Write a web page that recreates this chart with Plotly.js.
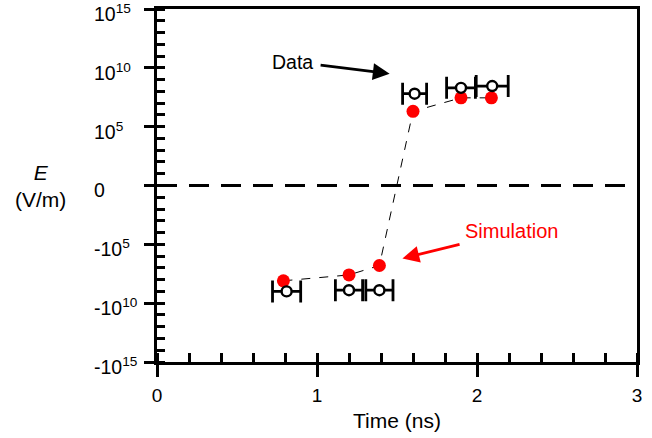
<!DOCTYPE html>
<html>
<head>
<meta charset="utf-8">
<script src="https://cdn.plot.ly/plotly-3.0.1.min.js"></script>
<style>html,body{margin:0;padding:0;background:#fff;}#chart{width:652px;height:438px;}</style>
</head>
<body>
<div id="chart"></div>
<script>
// Signed-log field values: t = sign(E) * log10(|E|)
var dataTime = [0.81, 1.20, 1.39, 1.61, 1.90, 2.095];
var dataLogE = [-9.0, -8.9, -8.9, 7.8, 8.3, 8.45];
var dataTimeErr = [0.088, 0.085, 0.085, 0.075, 0.09, 0.1];

var simTime = [0.79, 1.20, 1.39, 1.60, 1.90, 2.09];
var simLogE = [-8.1, -7.6, -6.8, 6.3, 7.45, 7.45];

var yTickVals = [15, 10, 5, 0, -5, -10, -15];
var yTickText = ['10<sup>15</sup>', '10<sup>10</sup>', '10<sup>5</sup>', '0', '-10<sup>5</sup>', '-10<sup>10</sup>', '-10<sup>15</sup>'];
var xTickVals = [0, 1, 2, 3];

var FONT = 'Liberation Sans, Arial, Helvetica, sans-serif';

var traces = [
  {x: simTime, y: simLogE, mode: 'lines', type: 'scatter',
   line: {color: 'black', width: 1, dash: '9px,9px'}, hoverinfo: 'skip', showlegend: false},
  {x: simTime, y: simLogE, mode: 'markers', type: 'scatter', name: 'Simulation',
   marker: {color: '#ff0000', size: 13, line: {width: 0}}, showlegend: false},
  {x: dataTime, y: dataLogE, mode: 'markers', type: 'scatter', name: 'Data',
   marker: {color: 'white', size: 10, line: {color: 'black', width: 2.4}},
   error_x: {type: 'data', array: dataTimeErr, visible: true, color: 'black', thickness: 2.8, width: 11},
   showlegend: false},
  {x: [0, 3], y: [0, 0], xaxis: 'x2', yaxis: 'y', mode: 'lines', type: 'scatter',
   line: {color: 'rgba(0,0,0,0)', width: 0}, hoverinfo: 'skip', showlegend: false}
];

var annotations = [];
for (var i = 0; i < yTickVals.length; i++) {
  annotations.push({xref: 'paper', yref: 'y', x: -0.135, y: yTickVals[i], text: yTickText[i], yshift: -4,
    showarrow: false, xanchor: 'left', yanchor: 'middle', font: {family: FONT, size: 19.5, color: 'black'}});
}
annotations.push({xref: 'paper', yref: 'paper', x: -0.243, y: 0.5, xanchor: 'center', yanchor: 'middle',
  text: '<i>E</i><br>(V/m)', showarrow: false, font: {family: FONT, size: 21, color: 'black'}});
annotations.push({x: 1.454, y: 9.5, xref: 'x', yref: 'y', text: 'Data', showarrow: true,
  ax: -97, ay: -12, arrowcolor: 'black', arrowwidth: 2.8, arrowhead: 2, arrowsize: 1.2,
  font: {family: FONT, size: 19.5, color: 'black'}, startstandoff: 6});
annotations.push({x: 1.534, y: -6.2, xref: 'x', yref: 'y', text: 'Simulation', showarrow: true,
  ax: 109, ay: -27, arrowcolor: '#ff0000', arrowwidth: 2.8, arrowhead: 2, arrowsize: 1.2,
  font: {family: FONT, size: 20, color: '#ff0000'}, startstandoff: 4});

var layout = {
  width: 652, height: 438,
  margin: {l: 157, r: 15, t: 9, b: 76},
  paper_bgcolor: 'white', plot_bgcolor: 'white',
  font: {family: FONT, size: 19, color: 'black'},
  xaxis: {range: [0, 3], tickvals: xTickVals, ticks: 'outside', ticklen: 12, tickwidth: 3, tickcolor: 'black',
    showline: true, linewidth: 3, linecolor: 'black', mirror: true, showgrid: false, zeroline: false,
    tickfont: {family: FONT, size: 19}, ticklabelstandoff: 2,
    minor: {dtick: 0.2, ticks: 'inside', ticklen: 9, tickwidth: 3, tickcolor: 'black', showgrid: false},
    title: {text: 'Time (ns)', font: {family: FONT, size: 21}, standoff: 9}},
  xaxis2: {range: [0, 3], overlaying: 'x', anchor: 'y', side: 'bottom', tickvals: xTickVals, ticks: 'inside',
    ticklen: 9, tickwidth: 3, tickcolor: 'black', showticklabels: false, showgrid: false, zeroline: false, showline: false},
  yaxis: {range: [-15, 15], tickvals: yTickVals, ticks: 'outside', ticklen: 10, tickwidth: 3, tickcolor: 'black',
    showticklabels: false, showline: true, linewidth: 3, linecolor: 'black', mirror: true, showgrid: false, zeroline: false,
    minor: {dtick: 1, ticks: 'inside', ticklen: 8, tickwidth: 3, tickcolor: 'black', showgrid: false}},
  shapes: [{type: 'line', xref: 'paper', yref: 'y', x0: 0, x1: 1, y0: 0, y1: 0,
    line: {color: 'black', width: 2.8, dash: '20px,12px'}, layer: 'below'}],
  annotations: annotations,
  showlegend: false
};

Plotly.newPlot('chart', traces, layout, {displayModeBar: false, staticPlot: true});
</script>
</body>
</html>
